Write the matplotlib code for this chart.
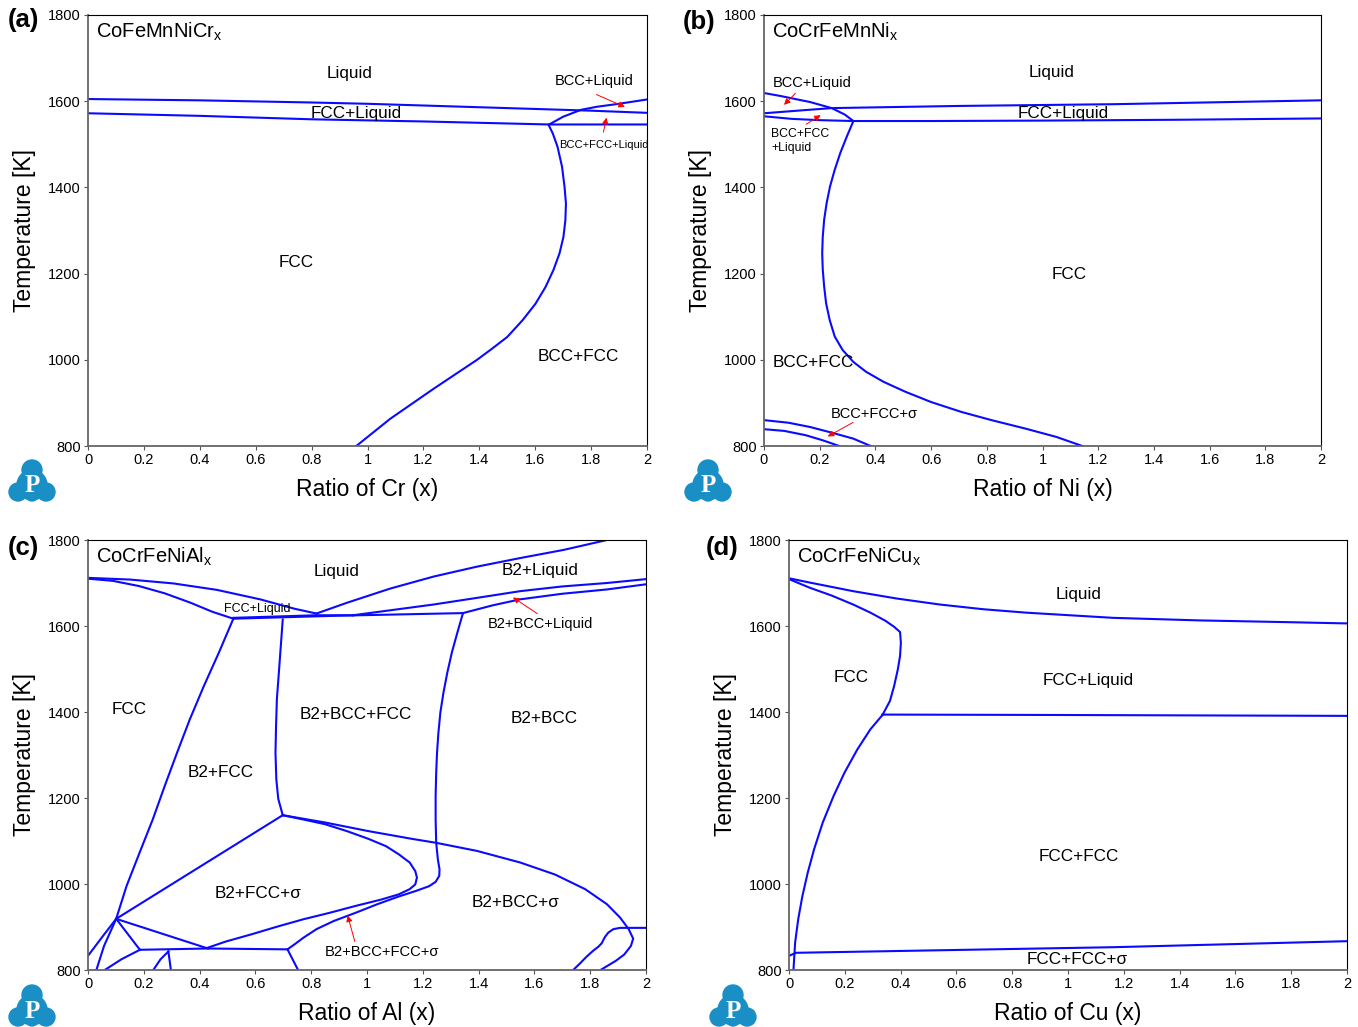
import matplotlib
matplotlib.use('Agg')
from matplotlib import pyplot as plt
from matplotlib.patches import Circle

plt.rcParams['font.family'] = ['Liberation Sans', 'DejaVu Sans']
plt.rcParams['mathtext.default'] = 'regular'

# ---- (a) CoFeMnNiCr_x ----
a_liq_x = [0, 0.4, 0.8, 1.0, 1.2, 1.6, 1.8, 2.0]
a_liq_T = [1605, 1602, 1597, 1594, 1590, 1582, 1578, 1573]
a_sol_x = [0, 0.4, 0.8, 1.2, 1.65, 2.0]
a_sol_T = [1572, 1566, 1558, 1553, 1546, 1546]
a_bccliq_x = [1.65, 1.70, 1.764, 1.82, 1.888, 1.95, 2.0]
a_bccliq_T = [1546, 1564, 1580, 1587, 1593, 1599, 1604]
a_solv_x = [1.648, 1.663, 1.680, 1.696, 1.705, 1.710, 1.708, 1.701, 1.687, 1.665, 1.637, 1.601, 1.555,
            1.500, 1.446, 1.392, 1.237, 1.081, 0.960]
a_solv_T = [1545, 1525, 1494, 1448, 1401, 1363, 1324, 1285, 1247, 1208, 1169, 1130, 1092,
            1053, 1026, 1000, 933, 863, 800]

# ---- (b) CoCrFeMnNi_x ----
b_liq_x = [0, 0.12, 0.243, 0.7, 1.25, 2.0]
b_liq_T = [1572, 1578, 1584, 1589, 1593, 1602]
b_bccliq_x = [0, 0.06, 0.12, 0.166, 0.243, 0.29, 0.321]
b_bccliq_T = [1619, 1612, 1604, 1598, 1584, 1569, 1554]
b_sol_x = [0, 0.1, 0.2, 0.321, 0.6, 1.0, 1.5, 2.0]
b_sol_T = [1565, 1559, 1556, 1554, 1554, 1555, 1557, 1560]
b_solv_x = [0.321, 0.298, 0.274, 0.254, 0.237, 0.225, 0.216, 0.211, 0.209, 0.211, 0.216, 0.223, 0.236,
            0.254, 0.282, 0.321, 0.367, 0.429, 0.507, 0.600, 0.709, 0.817, 0.941, 1.050, 1.143]
b_solv_T = [1554, 1519, 1480, 1441, 1402, 1364, 1325, 1286, 1247, 1209, 1170, 1131, 1092,
            1054, 1023, 995, 972, 949, 926, 902, 879, 860, 840, 821, 800]
b_sig1_x = [0, 0.088, 0.166, 0.243, 0.321, 0.383]
b_sig1_T = [860, 854, 844, 831, 817, 800]
b_sig2_x = [0, 0.073, 0.150, 0.212, 0.270]
b_sig2_T = [839, 835, 825, 813, 800]

# ---- (c) CoCrFeNiAl_x ----
c_fccliq_x = [0, 0.151, 0.306, 0.462, 0.617, 0.741, 0.819]
c_fccliq_T = [1712, 1708, 1699, 1684, 1662, 1640, 1629]
c_fccsol_x = [0, 0.089, 0.182, 0.275, 0.368, 0.446, 0.521]
c_fccsol_T = [1710, 1705, 1693, 1676, 1654, 1633, 1617]
c_b2liq_x = [0.819, 0.928, 1.083, 1.239, 1.394, 1.549, 1.705, 1.86]
c_b2liq_T = [1629, 1654, 1687, 1715, 1738, 1758, 1777, 1800]
c_midliq_x = [0.95, 1.1, 1.239, 1.4, 1.549, 1.7, 1.86, 2.0]
c_midliq_T = [1625, 1638, 1650, 1666, 1681, 1692, 1700, 1709]
c_lowliq_x = [1.344, 1.45, 1.549, 1.7, 1.86, 2.0]
c_lowliq_T = [1630, 1648, 1662, 1675, 1685, 1697]
c_tie1_x = [0.521, 0.9, 1.344]
c_tie1_T = [1617, 1624, 1630]
c_tie2_x = [0.521, 0.82, 0.95]
c_tie2_T = [1619, 1625, 1625]
c_fccb2_x = [0.521, 0.469, 0.415, 0.365, 0.319, 0.275, 0.232, 0.185, 0.138, 0.101, 0.0575, 0.03]
c_fccb2_T = [1617, 1538, 1460, 1383, 1305, 1228, 1150, 1073, 995, 919, 856, 800]
c_leftlo_x = [0, 0.05, 0.101]
c_leftlo_T = [833, 876, 919]
c_mid_x = [0.698, 0.691, 0.684, 0.677, 0.674, 0.672, 0.675, 0.682, 0.698]
c_mid_T = [1615, 1553, 1491, 1430, 1367, 1305, 1243, 1198, 1160]
c_diag_x = [0.101, 0.698]
c_diag_T = [919, 1160]
c_big_x = [0.698, 0.850, 1.005, 1.161, 1.246, 1.394, 1.549, 1.674, 1.782, 1.860, 1.907, 1.938, 1.954,
           1.946, 1.922, 1.891, 1.837]
c_big_T = [1160, 1143, 1123, 1105, 1096, 1077, 1050, 1022, 988, 953, 922, 895, 873,
           856, 836, 821, 800]
c_sigr_x = [1.739, 1.763, 1.787, 1.811, 1.829, 1.841, 1.853, 1.865, 1.883, 1.907, 1.955, 2.0]
c_sigr_T = [800, 815, 831, 845, 854, 862, 877, 887, 895, 898, 898, 898]
c_loop_x = [0.698, 0.772, 0.850, 0.928, 1.005, 1.068, 1.114, 1.153, 1.173, 1.179, 1.173, 1.153, 1.114,
            1.052, 0.959, 0.866, 0.772, 0.679, 0.586, 0.493, 0.430]
c_loop_T = [1160, 1150, 1139, 1123, 1105, 1088, 1069, 1050, 1030, 1015, 999, 988, 976,
            964, 949, 933, 918, 901, 883, 866, 852]
c_bccr_x = [1.344, 1.324, 1.304, 1.288, 1.274, 1.263, 1.256, 1.251, 1.248, 1.246, 1.246, 1.248, 1.254,
            1.260, 1.259, 1.246, 1.223, 1.176, 1.114, 1.037, 0.959, 0.881, 0.819, 0.772, 0.741, 0.715]
c_bccr_T = [1630, 1585, 1538, 1492, 1445, 1399, 1352, 1305, 1259, 1205, 1150, 1096, 1057,
            1034, 1019, 1005, 995, 984, 971, 953, 933, 914, 895, 875, 860, 848]
c_horiz_x = [0.186, 0.43, 0.715]
c_horiz_T = [847, 850, 848]
c_seg1_x = [0.101, 0.186]
c_seg1_T = [919, 847]
c_seg2_x = [0.101, 0.43]
c_seg2_T = [919, 850]
c_seg3_x = [0.186, 0.12, 0.06]
c_seg3_T = [847, 825, 800]
c_seg4_x = [0.234, 0.26, 0.288]
c_seg4_T = [800, 825, 843]
c_seg5_x = [0.288, 0.293, 0.297]
c_seg5_T = [843, 820, 800]
c_seg6_x = [0.715, 0.753]
c_seg6_T = [848, 800]

# ---- (d) CoCrFeNiCu_x ----
d_liq_x = [0, 0.0745, 0.230, 0.385, 0.540, 0.696, 0.851, 1.006, 1.161, 1.317, 1.472, 1.627, 1.783, 2.0]
d_liq_T = [1711, 1701, 1681, 1664, 1650, 1639, 1631, 1625, 1619, 1616, 1613, 1611, 1609, 1606]
d_sol_x = [0, 0.0745, 0.152, 0.230, 0.292, 0.346, 0.377, 0.398, 0.401, 0.398, 0.390, 0.377, 0.362, 0.335]
d_sol_T = [1709, 1689, 1671, 1650, 1631, 1612, 1598, 1586, 1561, 1530, 1499, 1461, 1426, 1393]
d_per_x = [0.335, 1.0, 2.0]
d_per_T = [1394, 1393, 1391]
d_solv_x = [0.335, 0.292, 0.245, 0.199, 0.160, 0.121, 0.090, 0.067, 0.048, 0.033, 0.022, 0.016]
d_solv_T = [1393, 1360, 1313, 1259, 1205, 1143, 1081, 1026, 972, 918, 864, 800]
d_sig_x = [0, 0.025, 1.161, 2.0]
d_sig_T = [833, 840, 853, 867]

tick_vals = [0, 0.2, 0.4, 0.6, 0.8, 1, 1.2, 1.4, 1.6, 1.8, 2]
tick_labels = ['0', '0.2', '0.4', '0.6', '0.8', '1', '1.2', '1.4', '1.6', '1.8', '2']

W, H = 1358, 1027
fig = plt.figure(figsize=(W / 100, H / 100), dpi=100)

LC = '#0a0aff'
REG = 12.3


def make_ax(left, top, right, bottom, element, letter, lx, ly):
    ax = fig.add_axes([left / W, 1 - bottom / H, (right - left) / W, (bottom - top) / H])
    ax.set_xlim(0, 2)
    ax.set_ylim(800, 1800)
    ax.set_xticks(tick_vals)
    ax.set_xticklabels(tick_labels)
    ax.set_yticks([800, 1000, 1200, 1400, 1600, 1800])
    ax.tick_params(labelsize=10.5, length=3, width=0.8, pad=2, color='#555555')
    for s in ['left', 'bottom']:
        ax.spines[s].set_color('#666666')
        ax.spines[s].set_linewidth(1.3)
    for s in ['top', 'right']:
        ax.spines[s].set_linewidth(0.8)
    ax.set_xlabel('Ratio of ' + element + ' (x)', fontsize=16.5, labelpad=8)
    ax.set_ylabel('Temperature [K]', fontsize=16.5, labelpad=9)
    fig.text(lx / W, 1 - ly / H, letter, fontsize=18.5, fontweight='bold', ha='left', va='center')
    return ax


def logo(cx, cy):
    lax = fig.add_axes([(cx - 25) / W, 1 - (cy + 25) / H, 50 / W, 50 / H])
    lax.set_xlim(0, 1)
    lax.set_ylim(0, 1)
    lax.axis('off')
    col = '#1a8fc6'
    lax.add_patch(Circle((0.5, 0.7), 0.2, color=col))
    lax.add_patch(Circle((0.22, 0.26), 0.18, color=col))
    lax.add_patch(Circle((0.78, 0.26), 0.18, color=col))
    lax.add_patch(Circle((0.5, 0.4), 0.3, color=col))
    lax.add_patch(Circle((0.5, 0.2), 0.12, color=col))
    lax.text(0.5, 0.38, 'P', color='white', fontsize=18, fontweight='bold',
             family='Liberation Serif', ha='center', va='center')


def arrow(ax, tail, head):
    ax.annotate('', xy=head, xytext=tail,
                arrowprops=dict(arrowstyle='-|>', color='red', lw=0.7, mutation_scale=9))


def lines(ax, pairs):
    for x, t in pairs:
        ax.plot(x, t, color=LC, lw=1.5)


# (a)
ax = make_ax(88, 15, 647, 446, 'Cr', '(a)', 8, 20)
lines(ax, [(a_liq_x, a_liq_T), (a_sol_x, a_sol_T), (a_bccliq_x, a_bccliq_T), (a_solv_x, a_solv_T)])
ax.text(0.03, 1760, 'CoFeMnNiCr$_x$', fontsize=14.5, va='center')
ax.text(0.935, 1665, 'Liquid', fontsize=REG, ha='center', va='center')
ax.text(1.81, 1647, 'BCC+Liquid', fontsize=10.5, ha='center', va='center')
ax.text(0.96, 1572, 'FCC+Liquid', fontsize=REG, ha='center', va='center')
ax.text(1.845, 1498, 'BCC+FCC+Liquid', fontsize=8, ha='center', va='center')
ax.text(0.744, 1225, 'FCC', fontsize=REG, ha='center', va='center')
ax.text(1.756, 1007, 'BCC+FCC', fontsize=REG, ha='center', va='center')
arrow(ax, (1.81, 1618), (1.93, 1584))
arrow(ax, (1.842, 1522), (1.857, 1568))
logo(32, 480)

# (b)
ax = make_ax(764, 15, 1321, 446, 'Ni', '(b)', 683, 22)
lines(ax, [(b_liq_x, b_liq_T), (b_bccliq_x, b_bccliq_T), (b_sol_x, b_sol_T), (b_solv_x, b_solv_T),
           (b_sig1_x, b_sig1_T), (b_sig2_x, b_sig2_T)])
ax.text(0.03, 1760, 'CoCrFeMnNi$_x$', fontsize=14.5, va='center')
ax.text(1.034, 1666, 'Liquid', fontsize=REG, ha='center', va='center')
ax.text(0.03, 1643, 'BCC+Liquid', fontsize=10.5, ha='left', va='center')
ax.text(1.073, 1571, 'FCC+Liquid', fontsize=REG, ha='center', va='center')
ax.text(0.025, 1524, 'BCC+FCC', fontsize=8.8, ha='left', va='center')
ax.text(0.025, 1491, '+Liquid', fontsize=8.8, ha='left', va='center')
ax.text(1.096, 1199, 'FCC', fontsize=REG, ha='center', va='center')
ax.text(0.03, 994, 'BCC+FCC', fontsize=REG, ha='left', va='center')
ax.text(0.24, 875, 'BCC+FCC+σ', fontsize=10.5, ha='left', va='center')
arrow(ax, (0.12, 1623), (0.065, 1587))
arrow(ax, (0.143, 1543), (0.212, 1571))
arrow(ax, (0.329, 858), (0.22, 819))
logo(708, 480)

# (c)
ax = make_ax(88, 540, 646, 970, 'Al', '(c)', 8, 548)
lines(ax, [(c_fccliq_x, c_fccliq_T), (c_fccsol_x, c_fccsol_T), (c_b2liq_x, c_b2liq_T),
           (c_midliq_x, c_midliq_T), (c_lowliq_x, c_lowliq_T), (c_tie1_x, c_tie1_T),
           (c_tie2_x, c_tie2_T), (c_fccb2_x, c_fccb2_T), (c_leftlo_x, c_leftlo_T),
           (c_mid_x, c_mid_T), (c_diag_x, c_diag_T), (c_big_x, c_big_T), (c_sigr_x, c_sigr_T),
           (c_loop_x, c_loop_T), (c_bccr_x, c_bccr_T), (c_horiz_x, c_horiz_T),
           (c_seg1_x, c_seg1_T), (c_seg2_x, c_seg2_T), (c_seg3_x, c_seg3_T),
           (c_seg4_x, c_seg4_T), (c_seg5_x, c_seg5_T), (c_seg6_x, c_seg6_T)])
ax.text(0.03, 1760, 'CoCrFeNiAl$_x$', fontsize=14.5, va='center')
ax.text(0.892, 1726, 'Liquid', fontsize=REG, ha='center', va='center')
ax.text(1.62, 1728, 'B2+Liquid', fontsize=REG, ha='center', va='center')
ax.text(0.606, 1639, 'FCC+Liquid', fontsize=9, ha='center', va='center')
ax.text(1.622, 1604, 'B2+BCC+Liquid', fontsize=10.5, ha='center', va='center')
ax.text(0.146, 1406, 'FCC', fontsize=REG, ha='center', va='center')
ax.text(0.959, 1394, 'B2+BCC+FCC', fontsize=REG, ha='center', va='center')
ax.text(1.635, 1385, 'B2+BCC', fontsize=REG, ha='center', va='center')
ax.text(0.474, 1259, 'B2+FCC', fontsize=REG, ha='center', va='center')
ax.text(0.609, 977, 'B2+FCC+σ', fontsize=REG, ha='center', va='center')
ax.text(1.534, 957, 'B2+BCC+σ', fontsize=REG, ha='center', va='center')
ax.text(1.052, 843, 'B2+BCC+FCC+σ', fontsize=10.6, ha='center', va='center')
arrow(ax, (1.619, 1625), (1.515, 1670))
arrow(ax, (0.959, 860), (0.928, 933))
logo(32, 1005)

# (d)
ax = make_ax(789, 540, 1347, 970, 'Cu', '(d)', 706, 548)
lines(ax, [(d_liq_x, d_liq_T), (d_sol_x, d_sol_T), (d_per_x, d_per_T), (d_solv_x, d_solv_T),
           (d_sig_x, d_sig_T)])
ax.text(0.03, 1760, 'CoCrFeNiCu$_x$', fontsize=14.5, va='center')
ax.text(1.037, 1673, 'Liquid', fontsize=REG, ha='center', va='center')
ax.text(0.222, 1480, 'FCC', fontsize=REG, ha='center', va='center')
ax.text(1.073, 1474, 'FCC+Liquid', fontsize=REG, ha='center', va='center')
ax.text(1.037, 1064, 'FCC+FCC', fontsize=REG, ha='center', va='center')
ax.text(1.033, 825, 'FCC+FCC+σ', fontsize=REG, ha='center', va='center')
logo(733, 1005)

plt.savefig('out.png', dpi=100)
